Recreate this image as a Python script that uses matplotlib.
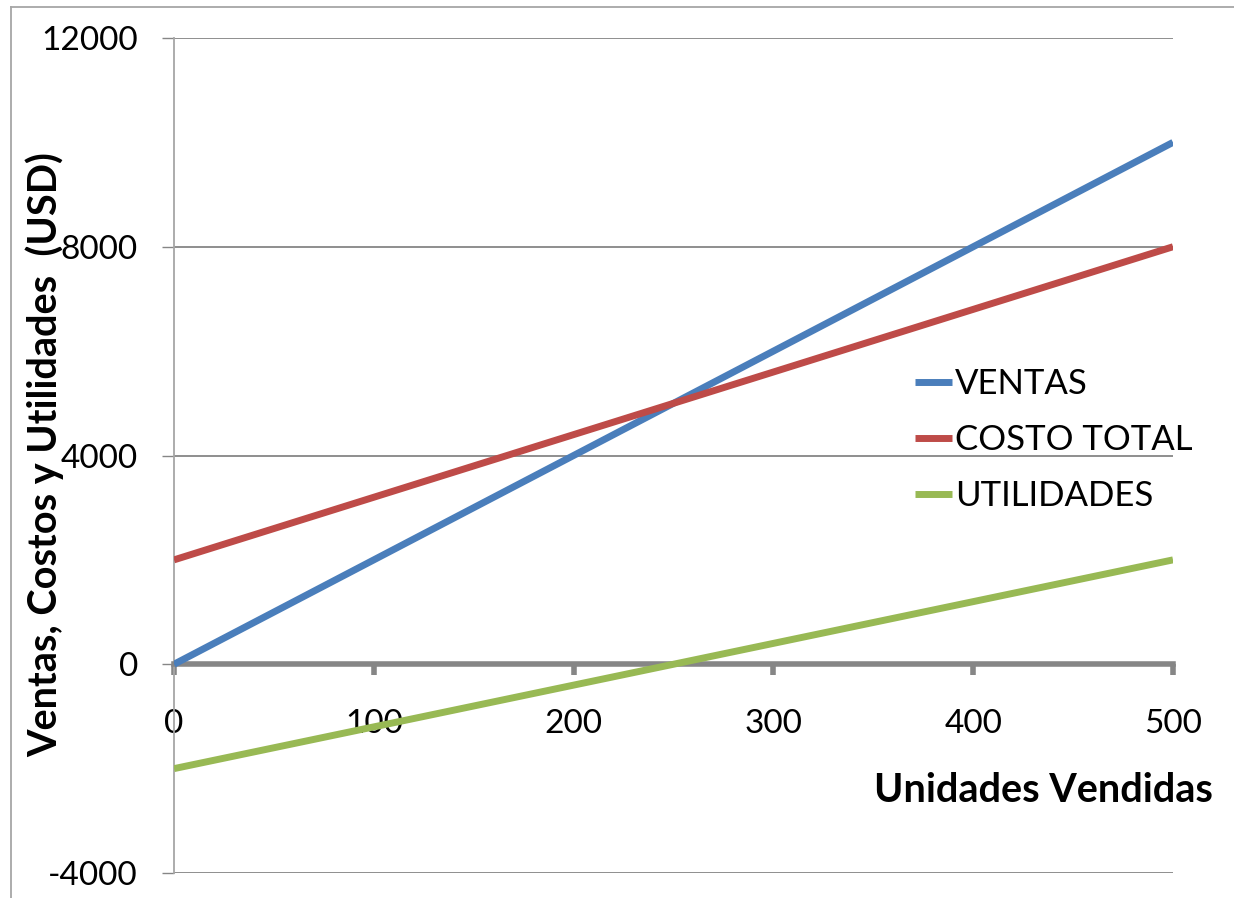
import numpy as np
import matplotlib
matplotlib.use("Agg")
import matplotlib.pyplot as plt
from matplotlib.lines import Line2D

# datos
unidades = [0, 100, 200, 300, 400, 500]
ventas = [0, 2000, 4000, 6000, 8000, 10000]
costo_total = [2000, 3200, 4400, 5600, 6800, 8000]
utilidades = [-2000, -1200, -400, 400, 1200, 2000]

y_ticks = [-4000, 0, 4000, 8000, 12000]
x_ticks = [0, 100, 200, 300, 400, 500]

plt.rcParams['font.family'] = ['Lato', 'DejaVu Sans']
plt.rcParams['axes.unicode_minus'] = False

fig = plt.figure(figsize=(12.34, 8.98), dpi=100)
ax = fig.add_axes([174 / 1234, 1 - 873 / 898, (1173 - 174) / 1234, (873 - 38) / 898])

gris = '#868686'
ax.plot(unidades, ventas, color='#4A7EBB', lw=5, label='VENTAS', solid_capstyle='butt', zorder=4)
ax.plot(unidades, costo_total, color='#BE4B48', lw=5, label='COSTO TOTAL', solid_capstyle='butt', zorder=4)
ax.plot(unidades, utilidades, color='#98B954', lw=5, label='UTILIDADES', solid_capstyle='butt', zorder=4)

ax.set_xlim(0, 500)
ax.set_ylim(-4000, 12000)
ax.set_yticks(y_ticks)
ax.set_xticks(x_ticks)

for yv in y_ticks:
    if yv != 0:
        ax.axhline(yv, color=gris, lw=1.3, zorder=1)

ax.spines['top'].set_visible(False)
ax.spines['right'].set_visible(False)
ax.spines['bottom'].set_position(('data', 0))
ax.spines['bottom'].set_color(gris)
ax.spines['bottom'].set_linewidth(4)
ax.spines['bottom'].set_zorder(3)
ax.spines['left'].set_color('#A6A6A6')
ax.spines['left'].set_linewidth(1.3)

ax.tick_params(axis='x', direction='out', length=8, width=4, color=gris, pad=24, labelsize=24)
ax.tick_params(axis='y', direction='out', length=9, width=1, color=gris, pad=17, labelsize=24)

fig.text(45 / 1234, 1 - 455 / 898, 'Ventas, Costos y Utilidades  (USD)', fontsize=28.5,
         fontweight='bold', rotation=90, ha='center', va='center')
fig.text(1213 / 1234, 1 - 790 / 898, 'Unidades Vendidas', fontsize=28.5, fontweight='bold',
         ha='right', va='center')

ax.legend(loc='center left', bbox_to_anchor=(884 / 1234, 1 - 440 / 898),
          bbox_transform=fig.transFigure, frameon=False, fontsize=25,
          handlelength=1.05, handletextpad=0.1, labelspacing=0.7)

# borde exterior
fig.add_artist(Line2D([11 / 1234, 11 / 1234], [0, 1 - 7 / 898], transform=fig.transFigure,
                      color='#A6A6A6', lw=1.3))
fig.add_artist(Line2D([11 / 1234, 1], [1 - 7 / 898, 1 - 7 / 898], transform=fig.transFigure,
                      color='#A6A6A6', lw=1.3))

fig.savefig('out.png', dpi=100)
